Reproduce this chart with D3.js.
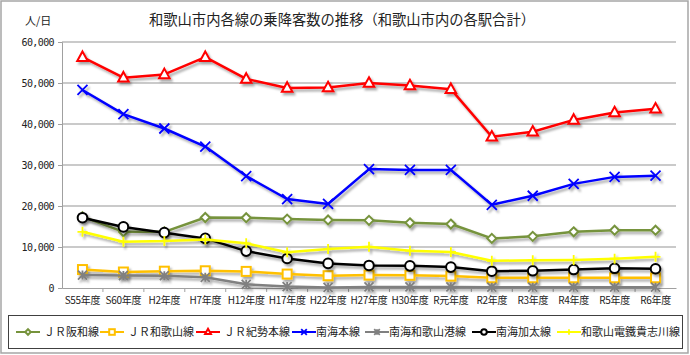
<!DOCTYPE html>
<html><head><meta charset="utf-8">
<script src="https://cdn.jsdelivr.net/npm/d3@7"></script>
<style>
html,body{margin:0;padding:0;background:#fff;}
text{font-family:"Noto Sans CJK JP","Noto Sans",sans-serif;fill:#222;}
</style></head>
<body><svg id="c" width="690" height="355"></svg>
<script>
const categories = ["S55年度","S60年度","H2年度","H7年度","H12年度","H17年度","H22年度","H27年度","H30年度","R元年度","R2年度","R3年度","R4年度","R5年度","R6年度"];
const yTicks = [0,10000,20000,30000,40000,50000,60000];
const seriesNames = ["ＪＲ阪和線","ＪＲ和歌山線","ＪＲ紀勢本線","南海本線","南海和歌山港線","南海加太線","和歌山電鐵貴志川線"];
const hanwa   = [17400,13700,13700,17200,17150,16800,16600,16500,15900,15600,12100,12600,13700,14100,14100];
const wakayama= [4500,3900,4100,4200,4050,3400,3000,3150,3100,2900,2500,2500,2500,2500,2500];
const kisei   = [56300,51300,52100,56300,51000,48800,48900,50000,49400,48500,36900,38100,41000,42800,43700];
const nankai  = [48300,42400,38900,34500,27300,21700,20500,29000,28800,28800,20300,22500,25400,27100,27400];
const wakayamako=[3150,3050,3000,2600,900,350,150,250,250,250,200,200,200,200,200];
const kada    = [17150,14900,13500,12100,9000,7200,6000,5500,5400,5100,4100,4200,4500,4800,4700];
const kishigawa=[13700,11300,11450,11850,10900,8700,9500,10050,9100,8800,6650,6750,6850,7150,7600];
const seriesValues = [hanwa,wakayama,kisei,nankai,wakayamako,kada,kishigawa];
const colors = ["#76933c","#ffc000","#ff0000","#0000ff","#808080","#000000","#ffff00"];
const markers = ["diamond","square","triangle","x","star","circle","plus"];

const svg = d3.select("#c");
const defs = svg.append("defs");
const f = defs.append("filter").attr("id","sh").attr("x","-20%").attr("y","-20%").attr("width","150%").attr("height","150%");
f.append("feDropShadow").attr("dx",2).attr("dy",2.5).attr("stdDeviation",1).attr("flood-color","#000").attr("flood-opacity",0.35);

// outer border
svg.append("rect").attr("x",1).attr("y",1).attr("width",687).attr("height",352).attr("fill","#fff").attr("stroke","#a6a6a6").attr("stroke-width",1.5);

const L=62,R=676,T=42,B=288;
const x = d3.scaleBand().domain(categories).range([L,R]);
const y = d3.scaleLinear().domain([0,60000]).range([B,T]);

// grid
svg.append("g").selectAll("line").data(yTicks.filter(d=>d>0)).join("line")
 .attr("x1",L).attr("x2",R).attr("y1",d=>y(d)).attr("y2",d=>y(d))
 .attr("stroke","#b8b8b8").attr("stroke-width",1.5);

// y axis
const ya = svg.append("g").attr("transform",`translate(${L},0)`)
 .call(d3.axisLeft(y).tickValues(yTicks).tickSize(4).tickFormat(d3.format(",")));
ya.select(".domain").attr("stroke","#a0a0a0");
ya.selectAll(".tick line").attr("stroke","#a0a0a0");
ya.selectAll("text").attr("font-size",10).attr("fill","#333").attr("x",-8)
 .style("font-family","'DejaVu Sans Mono','Liberation Mono',monospace").attr("letter-spacing","-0.6");

// x axis
const xa = svg.append("g").attr("transform",`translate(0,${B})`)
 .call(d3.axisBottom(x).tickSize(0).tickPadding(9));
xa.select(".domain").attr("stroke","#a0a0a0");
xa.selectAll("text").attr("font-size",10).attr("fill","#333").attr("letter-spacing","-0.3");
svg.append("g").selectAll("line").data(categories.slice(1)).join("line")
 .attr("x1",d=>x(d)).attr("x2",d=>x(d)).attr("y1",B).attr("y2",B+4).attr("stroke","#a0a0a0");

// title
svg.append("text").attr("x",342).attr("y",25).attr("text-anchor","middle").attr("font-size",14.3).attr("fill","#111").text("和歌山市内各線の乗降客数の推移（和歌山市内の各駅合計）");
svg.append("text").attr("x",25).attr("y",25).attr("font-size",11).attr("fill","#333").text("人/日");

function drawMarker(g, type, color, s){
  if(type==="diamond"){
    g.append("path").attr("d",`M0,${-s}L${s},0L0,${s}L${-s},0Z`).attr("fill","#fff").attr("stroke",color).attr("stroke-width",2);
  } else if(type==="square"){
    g.append("rect").attr("x",-s).attr("y",-s).attr("width",2*s).attr("height",2*s).attr("fill","#fff").attr("stroke",color).attr("stroke-width",2);
  } else if(type==="triangle"){
    g.append("path").attr("d",`M0,${-s*1.15}L${s*1.05},${s*0.75}L${-s*1.05},${s*0.75}Z`).attr("fill","#fff").attr("stroke",color).attr("stroke-width",2);
  } else if(type==="circle"){
    g.append("circle").attr("r",s).attr("fill","#fff").attr("stroke",color).attr("stroke-width",2);
  } else if(type==="x"){
    g.append("path").attr("d",`M${-s},${-s}L${s},${s}M${-s},${s}L${s},${-s}`).attr("stroke",color).attr("stroke-width",1.8);
  } else if(type==="plus"){
    g.append("path").attr("d",`M${-s},0L${s},0M0,${-s}L0,${s}`).attr("stroke",color).attr("stroke-width",1.8);
  } else if(type==="star"){
    g.append("path").attr("d",`M${-s},${-s}L${s},${s}M${-s},${s}L${s},${-s}M0,${-s}L0,${s}`).attr("stroke",color).attr("stroke-width",1.8);
  }
}
const msize = [4.5,4.5,5,5,4.5,4.8,5];

const line = d3.line().x((d,i)=>x(categories[i])+x.bandwidth()/2).y(d=>y(d));
seriesValues.forEach((vals,si)=>{
  const g = svg.append("g").attr("filter","url(#sh)");
  g.append("path").datum(vals).attr("d",line).attr("fill","none").attr("stroke",colors[si]).attr("stroke-width",2.5).attr("stroke-linejoin","round");
  vals.forEach((v,i)=>{
    const mg = g.append("g").attr("transform",`translate(${x(categories[i])+x.bandwidth()/2},${y(v)})`);
    drawMarker(mg, markers[si], colors[si], msize[si]);
  });
});

// legend
svg.append("rect").attr("x",8.5).attr("y",315.5).attr("width",674).attr("height",33).attr("fill","#fff").attr("stroke","#404040").attr("stroke-width",1);
const legX = [16,100,196,292,365,472,557];
const ly = 332;
seriesNames.forEach((n,i)=>{
  const g = svg.append("g").attr("transform",`translate(${legX[i]},${ly})`);
  g.append("line").attr("x1",0).attr("x2",24).attr("stroke",colors[i]).attr("stroke-width",2);
  const mg = g.append("g").attr("transform","translate(12,0)");
  drawMarker(mg, markers[i], colors[i], 2.8);
  g.append("text").attr("x",i>=3?24:28).attr("y",4).attr("font-size",11).attr("fill","#222").text(n);
});
</script></body></html>
